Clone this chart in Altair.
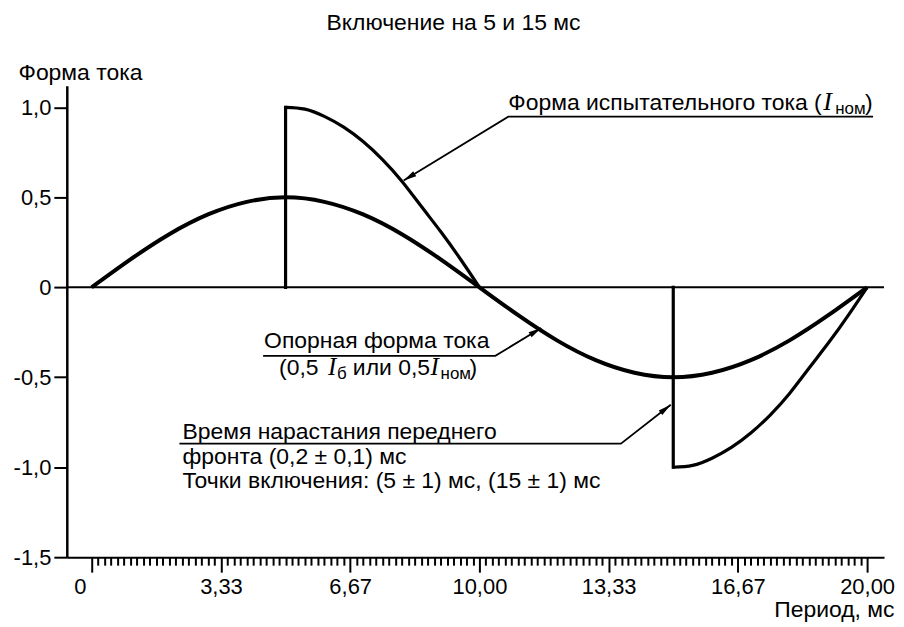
import altair as alt
import pandas as pd

# ---------------- data ----------------
REF_T = [0, 1, 2, 3, 4, 5, 6, 7, 8, 9, 10, 11, 12, 13, 14, 15, 16, 17, 18, 19, 20]
REF_V = [0, 0.155, 0.295, 0.405, 0.475, 0.5, 0.475, 0.405, 0.295, 0.155, 0,
         -0.155, -0.295, -0.405, -0.475, -0.5, -0.475, -0.405, -0.295, -0.155, 0]
TEST1_T = [5, 5.5, 6, 6.5, 7, 7.5, 8, 8.5, 9, 9.5, 10]
TEST1_V = [1.0, 0.99, 0.95, 0.89, 0.81, 0.71, 0.59, 0.45, 0.31, 0.16, 0]
TEST2_T = [15, 15.5, 16, 16.5, 17, 17.5, 18, 18.5, 19, 19.5, 20]
TEST2_V = [-1.0, -0.99, -0.95, -0.89, -0.81, -0.71, -0.59, -0.45, -0.31, -0.16, 0]
SWITCH_T = [5, 15]
SWITCH_V = [1.0, -1.0]

X_MAJOR_LABELS = ["0", "3,33", "6,67", "10,00", "13,33", "16,67", "20,00"]
X_MINOR_TICKS = [round(i / 6, 4) for i in range(121)]
Y_TICKS = [-1.5, -1.0, -0.5, 0, 0.5, 1.0]
Y_LABELS = ["-1,5", "-1,0", "-0,5", "0", "0,5", "1,0"]

TITLE = "Включение на 5 и 15 мс"
Y_TITLE = "Форма тока"
X_TITLE = "Период, мс"

FONT = "Liberation Sans"
SERIF = "Liberation Serif"

X_SCALE = alt.Scale(domain=[-0.643, 20.437], nice=False, zero=False)
Y_SCALE = alt.Scale(domain=[-1.5, 1.12], nice=False, zero=False)

MAJOR_TEST = "abs(datum.value*0.3 - round(datum.value*0.3)) < 0.01"
x_labels_js = "[" + ",".join("'" + s + "'" for s in X_MAJOR_LABELS) + "]"
y_labels_js = "[" + ",".join("'" + s + "'" for s in Y_LABELS) + "]"

x_axis = alt.Axis(
    values=X_MINOR_TICKS,
    labelExpr=f"{MAJOR_TEST} ? {x_labels_js}[round(datum.value*0.3)] : ''",
    tickSize={"condition": {"test": MAJOR_TEST, "value": 15}, "value": 8},
    labelOffset={"condition": {"test": "datum.value == 0", "value": -12}, "value": 0},
    tickWidth=2, tickColor="black", domainColor="black", domainWidth=2,
    labelFont=FONT, labelFontSize=22, labelColor="black", labelPadding=4,
    labelOverlap=False, labelFlush=False, grid=False,
    title=X_TITLE, titleFont=FONT, titleFontSize=23, titleFontWeight="normal",
    titleColor="black", titleAnchor="end", titleAlign="right",
    titleBaseline="alphabetic", titleX=830, titleY=60,
)
y_axis = alt.Axis(
    values=Y_TICKS,
    labelExpr=f"{y_labels_js}[round((datum.value+1.5)*2)]",
    tickSize=13, tickWidth=2, tickColor="black", domainColor="black", domainWidth=2.5,
    labelFont=FONT, labelFontSize=22, labelColor="black", labelPadding=3,
    labelOverlap=False, grid=False,
    title=Y_TITLE, titleFont=FONT, titleFontSize=23, titleFontWeight="normal",
    titleColor="black", titleAngle=0, titleAlign="left", titleBaseline="alphabetic",
    titleX=-49, titleY=-6,
)


def X(field="t"):
    return alt.X(f"{field}:Q", scale=X_SCALE, axis=x_axis)


def Y(field="v"):
    return alt.Y(f"{field}:Q", scale=Y_SCALE, axis=y_axis)


ref_df = pd.DataFrame({"t": REF_T, "v": REF_V})
test_df = pd.DataFrame({
    "t": TEST1_T + TEST2_T,
    "v": TEST1_V + TEST2_V,
    "seg": ["a"] * len(TEST1_T) + ["b"] * len(TEST2_T),
})
switch_df = pd.DataFrame({"t": SWITCH_T, "v": SWITCH_V, "v0": [0, 0]})

ref_line = alt.Chart(ref_df).mark_line(
    color="black", strokeWidth=4, interpolate="natural"
).encode(x=X(), y=Y())

test_line = alt.Chart(test_df).mark_line(
    color="black", strokeWidth=3.2, interpolate="natural"
).encode(x=X(), y=Y(), detail="seg:N")

switch_rules = alt.Chart(switch_df).mark_rule(
    color="black", strokeWidth=3.2, strokeCap="square"
).encode(x=X(), y=Y("v0"), y2="v:Q")

zero_rule = alt.Chart(pd.DataFrame({"v": [0]})).mark_rule(
    color="black", strokeWidth=2
).encode(y=Y())

# ---------------- annotations (leaders in data coordinates) ----------------
LEADER_GRP = ["a1", "a1", "a1", "a2", "a2", "a2", "a3", "a3", "a3"]
LEADER_ORD = [0, 1, 2, 0, 1, 2, 0, 1, 2]
LEADER_T = [20.154, 10.745, 8.046, 4.421, 10.411, 11.594, 2.262, 13.650, 14.935]
LEADER_V = [0.948, 0.948, 0.594, -0.381, -0.381, -0.226, -0.869, -0.869, -0.653]
ARROW_T = [8.046, 11.594, 14.935]
ARROW_V = [0.594, -0.226, -0.653]
ARROW_ANGLE = [238.6, 58.7, 52.0]

leader_df = pd.DataFrame({"t": LEADER_T, "v": LEADER_V, "g": LEADER_GRP, "o": LEADER_ORD})
leaders = alt.Chart(leader_df).mark_line(color="black", strokeWidth=1.8).encode(
    x=X(), y=Y(), detail="g:N", order="o:Q"
)
arrow_df = pd.DataFrame({"t": ARROW_T, "v": ARROW_V, "a": ARROW_ANGLE})
arrows = alt.Chart(arrow_df).mark_point(
    shape="M0,0L-0.45,2L0.45,2Z", filled=True, size=169, color="black", opacity=1
).encode(x=X(), y=Y(), angle=alt.Angle("a:Q", scale=None))


def piece(t, v, s, dx=0, dy=0, font=FONT, size=23, style="normal", align="left"):
    df = pd.DataFrame({"t": [t], "v": [v], "s": [s]})
    return alt.Chart(df).mark_text(
        align=align, baseline="alphabetic", dx=dx, dy=dy, font=font,
        fontSize=size, fontStyle=style, color="black"
    ).encode(x=X(), y=Y(), text="s:N")


texts = [
    # annotation 1
    piece(10.745, 0.987, "Форма испытательного тока ("),
    piece(10.745, 0.987, "I", dx=316, font=SERIF, size=26, style="italic"),
    piece(10.745, 0.987, "ном", dx=328, dy=4, size=17),
    piece(10.745, 0.987, ")", dx=358),
    # annotation 2
    piece(7.352, -0.337, "Опорная форма тока", align="center"),
    piece(4.833, -0.486, "(0,5"),
    piece(4.833, -0.486, "I", dx=49, font=SERIF, size=25, style="italic"),
    piece(4.833, -0.486, "б", dx=58, dy=4, size=17),
    piece(4.833, -0.486, "или 0,5", dx=74),
    piece(4.833, -0.486, "I", dx=152, font=SERIF, size=25, style="italic"),
    piece(4.833, -0.486, "ном", dx=162, dy=4, size=17),
    piece(4.833, -0.486, ")", dx=191),
    # annotation 3
    piece(2.339, -0.841, "Время нарастания переднего"),
    piece(2.339, -0.982, "фронта (0,2 ± 0,1) мс"),
    piece(2.339, -1.118, "Точки включения: (5 ± 1) мс, (15 ± 1) мс"),
]

chart = alt.layer(
    ref_line, zero_rule, test_line, switch_rules, leaders, arrows, *texts
).properties(
    width=820,
    height=473,
    title=alt.TitleParams(
        TITLE, font=FONT, fontSize=23, fontWeight="normal", color="black",
        anchor="middle", dx=-22, offset=27,
    ),
    autosize=alt.AutoSizeParams(type="none"),
    padding={"left": 59, "top": 77, "right": 12, "bottom": 66},
    background="white",
).configure_view(stroke=None)

chart.save("out.html", embed_options={"renderer": "svg", "actions": False})
